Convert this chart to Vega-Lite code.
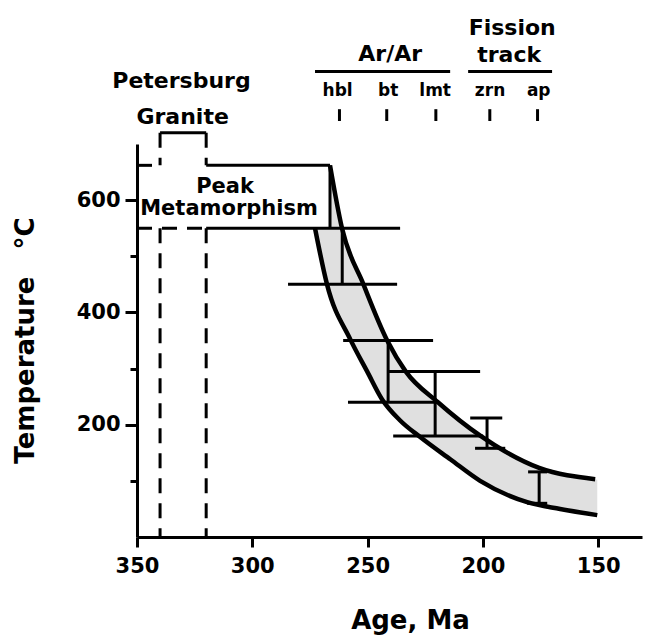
{
  "$schema": "https://vega.github.io/schema/vega-lite/v6.json",
  "autosize": {"type": "none"},
  "width": 505,
  "height": 393,
  "padding": {"left": 137, "top": 144, "right": 6, "bottom": 100},
  "background": "white",
  "config": {"view": {"stroke": null}, "font": "DejaVu Sans", "axis": {"grid": false}},
  "datasets": {
    "band": [
      {"age": 272.8, "temp": 550, "temp2": 550},
      {"age": 268, "temp": 458, "temp2": 550},
      {"age": 266.4, "temp": 439, "temp2": 550},
      {"age": 266.3, "temp": 438, "temp2": 662},
      {"age": 264, "temp": 416, "temp2": 613},
      {"age": 261.1, "temp": 389, "temp2": 550},
      {"age": 256, "temp": 342, "temp2": 497},
      {"age": 251.8, "temp": 307, "temp2": 450},
      {"age": 245, "temp": 255, "temp2": 384},
      {"age": 241.5, "temp": 234, "temp2": 350},
      {"age": 236, "temp": 208, "temp2": 314},
      {"age": 233.5, "temp": 199, "temp2": 295},
      {"age": 227.2, "temp": 178, "temp2": 270},
      {"age": 219.5, "temp": 155, "temp2": 240},
      {"age": 214, "temp": 138, "temp2": 222},
      {"age": 201, "temp": 100, "temp2": 180},
      {"age": 190, "temp": 79, "temp2": 155},
      {"age": 180.8, "temp": 62, "temp2": 135},
      {"age": 175.6, "temp": 58, "temp2": 123},
      {"age": 166.5, "temp": 50, "temp2": 115},
      {"age": 150.4, "temp": 39, "temp2": 102}
    ],
    "cooling_old": [
      {"age": 272.8, "temp": 550},
      {"age": 267.6, "temp": 450},
      {"age": 257.5, "temp": 352},
      {"age": 250.2, "temp": 295},
      {"age": 243.7, "temp": 245},
      {"age": 236, "temp": 208},
      {"age": 227.2, "temp": 178},
      {"age": 214, "temp": 138},
      {"age": 201.2, "temp": 100},
      {"age": 180.8, "temp": 62},
      {"age": 166.5, "temp": 50},
      {"age": 150.4, "temp": 39}
    ],
    "cooling_young": [
      {"age": 266.3, "temp": 662},
      {"age": 261.1, "temp": 550},
      {"age": 251.8, "temp": 450},
      {"age": 241.5, "temp": 350},
      {"age": 233.5, "temp": 295},
      {"age": 219.5, "temp": 240},
      {"age": 201, "temp": 180},
      {"age": 175.6, "temp": 123},
      {"age": 151.3, "temp": 103}
    ],
    "box": [
      {"age": 320, "age2": 266.3, "temp": 662, "temp2": 662},
      {"age": 320, "age2": 235.9, "temp": 550, "temp2": 550},
      {"age": 266.3, "age2": 266.3, "temp": 662, "temp2": 550},
      {"age": 350, "age2": 343.5, "temp": 662, "temp2": 662},
      {"age": 340, "age2": 320, "temp": 720, "temp2": 720}
    ],
    "inferred": [
      {"age": 350, "age2": 320, "temp": 550, "temp2": 550},
      {"age": 340, "age2": 340, "temp": 720, "temp2": 662},
      {"age": 320, "age2": 320, "temp": 720, "temp2": 662},
      {"age": 340, "age2": 340, "temp": 550, "temp2": 0},
      {"age": 320, "age2": 320, "temp": 550, "temp2": 0}
    ],
    "closure": [
      {"age": 284.5, "age2": 237.2, "temp": 450, "temp2": 450},
      {"age": 260.6, "age2": 221.6, "temp": 350, "temp2": 350},
      {"age": 241.5, "age2": 201.2, "temp": 295, "temp2": 295},
      {"age": 258.5, "age2": 219.8, "temp": 240, "temp2": 240},
      {"age": 238.9, "age2": 199.9, "temp": 180, "temp2": 180},
      {"age": 205.5, "age2": 191.6, "temp": 212, "temp2": 212},
      {"age": 203.4, "age2": 190.3, "temp": 158, "temp2": 158},
      {"age": 180.4, "age2": 172.1, "temp": 116, "temp2": 116},
      {"age": 180.8, "age2": 172.1, "temp": 60, "temp2": 60},
      {"age": 261, "age2": 261, "temp": 550, "temp2": 450},
      {"age": 241.1, "age2": 241.1, "temp": 350, "temp2": 240},
      {"age": 220.7, "age2": 220.7, "temp": 295, "temp2": 180},
      {"age": 198.2, "age2": 198.2, "temp": 212, "temp2": 158},
      {"age": 175.6, "age2": 175.6, "temp": 116, "temp2": 60}
    ],
    "methods": [
      {"age": 272.8, "age2": 214.2, "temp": 829, "temp2": 829},
      {"age": 206.4, "age2": 170.0, "temp": 829, "temp2": 829},
      {"age": 262.2, "age2": 262.2, "temp": 762, "temp2": 741},
      {"age": 241.7, "age2": 241.7, "temp": 762, "temp2": 741},
      {"age": 220.4, "age2": 220.4, "temp": 762, "temp2": 741},
      {"age": 197.0, "age2": 197.0, "temp": 762, "temp2": 741},
      {"age": 176.3, "age2": 176.3, "temp": 762, "temp2": 741}
    ],
    "headers": [
      {"age": 330.7, "temp": 800, "label": "Petersburg"},
      {"age": 330.2, "temp": 736, "label": "Granite"},
      {"age": 240.2, "temp": 848, "label": "Ar/Ar"},
      {"age": 187.3, "temp": 894, "label": "Fission"},
      {"age": 188.6, "temp": 846, "label": "track"}
    ],
    "minerals": [
      {"age": 263.0, "temp": 786, "label": "hbl"},
      {"age": 241.1, "temp": 786, "label": "bt"},
      {"age": 220.7, "temp": 786, "label": "lmt"},
      {"age": 196.9, "temp": 786, "label": "zrn"},
      {"age": 175.8, "temp": 786, "label": "ap"}
    ],
    "peak": [
      {"age": 311.8, "temp": 613, "label": "Peak"},
      {"age": 310.1, "temp": 574, "label": "Metamorphism"}
    ]
  },
  "encoding": {
    "x": {
      "field": "age", "type": "quantitative",
      "scale": {"domain": [131, 350], "reverse": true, "nice": false, "zero": false},
      "axis": {
        "title": "Age, Ma", "values": [350, 300, 250, 200, 150],
        "domainColor": "black", "domainWidth": 3, "tickColor": "black", "tickWidth": 3, "tickSize": 10,
        "labelFont": "DejaVu Sans", "labelFontWeight": "bold", "labelFontSize": 21, "labelColor": "black",
        "labelPadding": 8, "labelFlush": false, "labelOverlap": false,
        "titleFont": "DejaVu Sans", "titleFontWeight": "bold", "titleFontSize": 26, "titleColor": "black",
        "titleX": 273, "titleY": 83, "titleBaseline": "middle", "titleAlign": "center"
      }
    },
    "y": {
      "field": "temp", "type": "quantitative",
      "scale": {"domain": [0, 700], "nice": false, "zero": false},
      "axis": {
        "title": "Temperature\u00a0\u00a0\u00a0°C", "values": [100, 200, 300, 400, 500, 600],
        "labelExpr": "datum.value % 200 === 0 ? datum.label : ''",
        "tickSize": {"condition": {"test": "datum.value % 200 === 0", "value": 12}, "value": 7},
        "domainColor": "black", "domainWidth": 3, "tickColor": "black", "tickWidth": 3,
        "labelFont": "DejaVu Sans", "labelFontWeight": "bold", "labelFontSize": 21, "labelColor": "black",
        "labelPadding": 5, "labelFlush": false, "labelOverlap": false,
        "titleFont": "DejaVu Sans", "titleFontWeight": "bold", "titleFontSize": 26, "titleColor": "black",
        "titleX": -112, "titleY": 196, "titleAngle": 270, "titleBaseline": "middle", "titleAlign": "center"
      }
    }
  },
  "layer": [
    {"data": {"name": "band"}, "mark": {"type": "area", "color": "#e0e0e0"}, "encoding": {"y2": {"field": "temp2"}}},
    {"data": {"name": "cooling_old"}, "mark": {"type": "line", "color": "black", "strokeWidth": 4.5, "interpolate": "monotone"}, "encoding": {}},
    {"data": {"name": "cooling_young"}, "mark": {"type": "line", "color": "black", "strokeWidth": 4.5, "interpolate": "monotone"}, "encoding": {}},
    {"data": {"name": "box"}, "mark": {"type": "rule", "color": "black", "strokeWidth": 3}, "encoding": {"x2": {"field": "age2"}, "y2": {"field": "temp2"}}},
    {"data": {"name": "inferred"}, "mark": {"type": "rule", "color": "black", "strokeWidth": 3, "strokeDash": [15, 10]}, "encoding": {"x2": {"field": "age2"}, "y2": {"field": "temp2"}}},
    {"data": {"name": "closure"}, "mark": {"type": "rule", "color": "black", "strokeWidth": 3}, "encoding": {"x2": {"field": "age2"}, "y2": {"field": "temp2"}}},
    {"data": {"name": "methods"}, "mark": {"type": "rule", "color": "black", "strokeWidth": 3}, "encoding": {"x2": {"field": "age2"}, "y2": {"field": "temp2"}}},
    {"data": {"name": "headers"}, "mark": {"type": "text", "color": "black", "font": "DejaVu Sans", "fontWeight": "bold", "fontSize": 22, "baseline": "alphabetic", "align": "center"}, "encoding": {"text": {"field": "label"}}},
    {"data": {"name": "minerals"}, "mark": {"type": "text", "color": "black", "font": "DejaVu Sans", "fontWeight": "bold", "fontSize": 17, "baseline": "alphabetic", "align": "center"}, "encoding": {"text": {"field": "label"}}},
    {"data": {"name": "peak"}, "mark": {"type": "text", "color": "black", "font": "DejaVu Sans", "fontWeight": "bold", "fontSize": 21, "baseline": "alphabetic", "align": "center"}, "encoding": {"text": {"field": "label"}}}
  ]
}
